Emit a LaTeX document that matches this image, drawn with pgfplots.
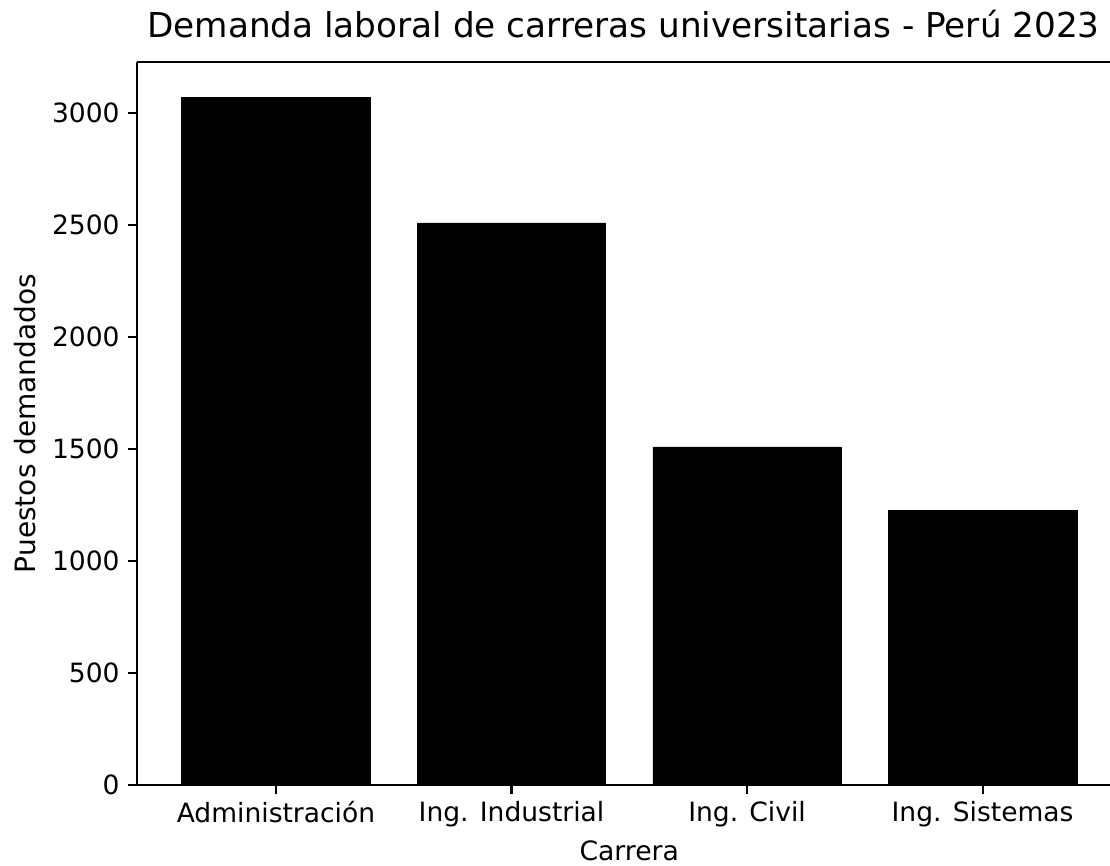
\documentclass[border=0pt]{standalone}
\usepackage{pgfplots}
\pgfplotsset{compat=1.18}
\usepackage{fontspec}
\setmainfont{DejaVu Sans}

\begin{document}
\begin{tikzpicture}
\begin{axis}[
  scale only axis,
  width=729.75pt, height=542.25pt,
  xmin=-0.59, xmax=3.541, ymin=0, ymax=3229,
  axis x line=box, axis y line=left,
  axis line style={-, line width=1.6pt, black},
  xtick pos=bottom, ytick pos=left,
  xtick={0,1,2,3},
  xticklabels={Administración, Ing. Industrial, Ing. Civil, Ing. Sistemas},
  ytick={0,500,1000,1500,2000,2500,3000},
  scaled y ticks=false,
  /pgf/number format/1000 sep={},
  /pgf/number format/assume math mode=true,
  tick align=outside,
  major tick length=6.5pt,
  tick style={black, line width=1.6pt},
  tick label style={font=\fontsize{19.9}{24}\selectfont},
  xticklabel style={yshift=-2pt},
  yticklabel style={xshift=-3pt},
  title style={font=\fontsize{25.7}{30}\selectfont, anchor=base, yshift=12pt},
  title={Demanda laboral de carreras universitarias - Perú 2023},
  xlabel={Carrera},
  ylabel={Puestos demandados},
  xlabel style={font=\fontsize{20}{24}\selectfont, at={(axis cs:1.5,0)}, anchor=base, yshift=-57pt},
  ylabel style={font=\fontsize{21}{25}\selectfont, at={(rel axis cs:-0.115,0.5)}, anchor=center, rotate=0},
  ybar, bar width=0.8, bar shift=0pt,
  clip=false,
]
\addplot[fill=black, draw=black] coordinates {(0,3072) (1,2510) (2,1510) (3,1228)};
\coordinate (O) at (rel axis cs:0,0);
\end{axis}
\pgfresetboundingbox
\path[use as bounding box] (O) ++(-102.75pt,-60.75pt) rectangle ++(832.5pt,649.5pt);
\end{tikzpicture}
\end{document}
